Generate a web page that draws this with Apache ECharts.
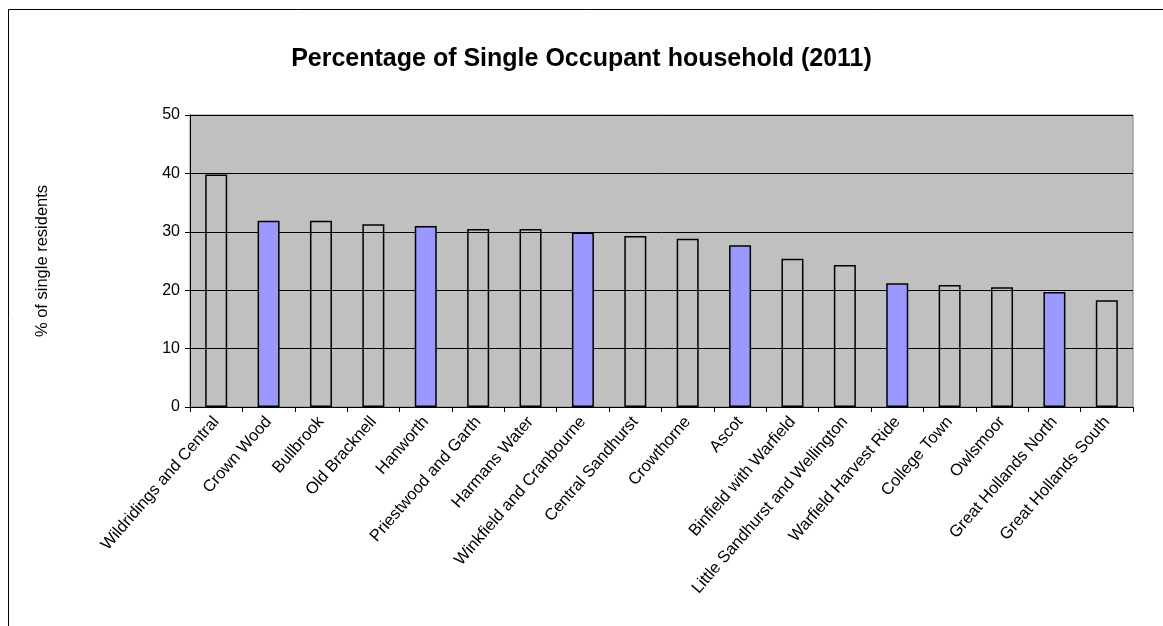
<!DOCTYPE html>
<html>
<head>
<meta charset="utf-8">
<script src="https://cdn.jsdelivr.net/npm/echarts@6/dist/echarts.min.js"></script>
<style>html,body{margin:0;padding:0;background:#fff;}#c{width:1163px;height:626px;}</style>
</head>
<body>
<div id="c"></div>
<script>
const categories = ["Wildridings and Central","Crown Wood","Bullbrook","Old Bracknell","Hanworth","Priestwood and Garth","Harmans Water","Winkfield and Cranbourne","Central Sandhurst","Crowthorne","Ascot","Binfield with Warfield","Little Sandhurst and Wellington","Warfield Harvest Ride","College Town","Owlsmoor","Great Hollands North","Great Hollands South"];
const values = [39.8,31.9,31.9,31.3,31.0,30.5,30.5,29.9,29.3,28.8,27.7,25.4,24.3,21.2,20.9,20.5,19.7,18.3];
const highlighted = ["Crown Wood","Hanworth","Winkfield and Cranbourne","Ascot","Warfield Harvest Ride","Great Hollands North"];
const yTicks = [0,10,20,30,40,50];
const titleText = "Percentage of Single Occupant household (2011)";
const yName = "% of single residents";

const font = "'Liberation Sans', Arial, sans-serif";
const chart = echarts.init(document.getElementById('c'));
chart.setOption({
  animation: false,
  backgroundColor: '#fff',
  title: {
    text: titleText, left: 'center', top: 42,
    textStyle: {fontFamily: font, fontSize: 25, fontWeight: 'bold', color: '#000'}
  },
  graphic: [{
    type: 'rect', silent: true,
    shape: {x: 8.5, y: 9.5, width: 1300, height: 800},
    style: {fill: 'none', stroke: '#000', lineWidth: 1}
  }],
  grid: {
    left: 190, top: 115, width: 943, height: 292,
    show: true, backgroundColor: '#c0c0c0', borderColor: '#808080', borderWidth: 1
  },
  xAxis: {
    type: 'category', data: categories,
    axisLine: {show: true, lineStyle: {color: '#000'}},
    axisTick: {show: true, alignWithLabel: false, length: 5, lineStyle: {color: '#000'}},
    axisLabel: {rotate: 49, interval: 0, fontFamily: font, fontSize: 16.5, color: '#000', margin: 12}
  },
  yAxis: {
    type: 'value', min: yTicks[0], max: yTicks[yTicks.length-1], interval: 10,
    name: yName, nameLocation: 'middle', nameGap: 139, nameRotate: 90,
    nameTextStyle: {fontFamily: font, fontSize: 16.5, color: '#000'},
    axisLine: {show: true, lineStyle: {color: '#000'}},
    axisTick: {show: true, length: 5, lineStyle: {color: '#000'}},
    axisLabel: {fontFamily: font, fontSize: 16, color: '#000', margin: 10},
    splitLine: {show: true, lineStyle: {color: '#000', width: 1}}
  },
  series: [{
    type: 'bar', barWidth: '42%',
    data: values.map((v, i) => ({
      value: v,
      itemStyle: {
        color: highlighted.includes(categories[i]) ? '#9999ff' : 'rgba(0,0,0,0)',
        borderColor: '#000', borderWidth: 1.5
      }
    }))
  }]
});
</script>
</body>
</html>
